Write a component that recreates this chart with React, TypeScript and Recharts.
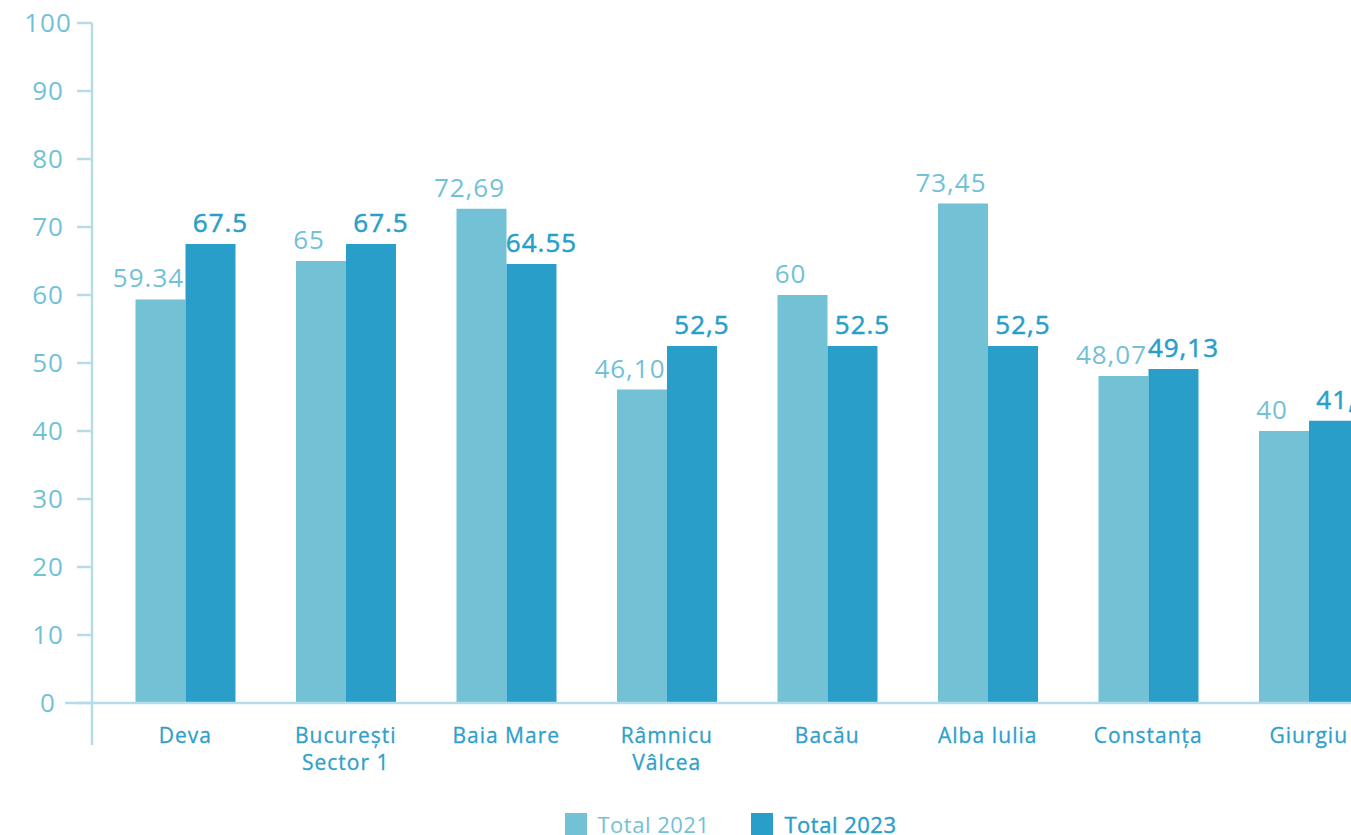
import React from 'react';
import { BarChart, Bar, XAxis, YAxis, Legend, LabelList } from 'recharts';

const cities = ['Deva', 'București\nSector 1', 'Baia Mare', 'Râmnicu\nVâlcea', 'Bacău', 'Alba Iulia', 'Constanța', 'Giurgiu'];
const total2021 = [59.34, 65, 72.69, 46.1, 60, 73.45, 48.07, 40];
const total2023 = [67.5, 67.5, 64.55, 52.5, 52.5, 52.5, 49.13, 41.5];
const labels2021 = ['59.34', '65', '72,69', '46,10', '60', '73,45', '48,07', '40'];
const labels2023 = ['67.5', '67.5', '64.55', '52,5', '52.5', '52,5', '49,13', '41,5'];
const yTicks = [0, 10, 20, 30, 40, 50, 60, 70, 80, 90, 100];

const data = cities.map((city, i) => ({
  city,
  t2021: total2021[i],
  t2023: total2023[i],
  l2021: labels2021[i],
  l2023: labels2023[i],
}));

const FONT = '"Open Sans", sans-serif';
const LIGHT = '#72c1d5';
const DARK = '#289ec9';
const AXIS = '#b6dcea';

const CityTick = (props: any) => {
  const { x, y, payload } = props;
  const lines = String(payload.value).split('\n');
  return (
    <text x={x} y={y} textAnchor="middle" fill="#2f9fcb" fontSize={21} fontFamily={FONT} letterSpacing={1}
      stroke="#2f9fcb" strokeWidth={0.3}>
      {lines.map((line, i) => (
        <tspan key={i} x={x} dy={i === 0 ? 40 : 27}>{line}</tspan>
      ))}
    </text>
  );
};

// tick labels are centred in the gutter left of the axis
const ValueTick = (props: any) => {
  const { x, y, payload } = props;
  return (
    <text x={x - 23} y={y} dy={9} textAnchor="middle" fill={LIGHT} fontSize={26} fontFamily={FONT} letterSpacing={1}>
      {payload.value}
    </text>
  );
};

const valueLabel = (color: string, bolder: boolean, shift: number) => (props: any) => {
  const { x, y, width, value } = props;
  return (
    <text x={x + width / 2 + shift} y={y - 12} textAnchor="middle" fill={color} fontSize={26}
      fontFamily={FONT} letterSpacing={1} stroke={bolder ? color : 'none'} strokeWidth={bolder ? 0.5 : 0}>
      {value}
    </text>
  );
};

const renderLegend = (props: any) => {
  const { payload } = props;
  return (
    <div style={{ display: 'flex', justifyContent: 'center', alignItems: 'center', height: 32, fontFamily: FONT }}>
      {payload.map((entry: any, i: number) => (
        <div key={i} style={{ display: 'flex', alignItems: 'center', marginLeft: i === 0 ? 0 : 41 }}>
          <span style={{ width: 22, height: 22, background: entry.color, display: 'inline-block' }} />
          <span style={{ marginLeft: i === 0 ? 10 : 12, fontSize: 22, color: entry.color, letterSpacing: 0.5,
            WebkitTextStroke: i === 0 ? undefined : `0.4px ${entry.color}` }}>
            {entry.value}
          </span>
        </div>
      ))}
    </div>
  );
};

export default function App() {
  return (
    <div style={{ position: 'fixed', left: 0, top: 0, width: 1351, height: 835, overflow: 'hidden', background: '#fff' }}>
      <BarChart width={1460} height={860} data={data} barCategoryGap="19%" barGap={0}
        margin={{ top: 23, right: 58, left: 20, bottom: 0 }}>
        <XAxis dataKey="city" tick={<CityTick />} tickLine={false} tickSize={0} tickMargin={0}
          axisLine={{ stroke: AXIS, strokeWidth: 2.5 }} height={125} padding={{ left: 13, right: 13 }} interval={0} />
        <YAxis domain={[0, 100]} ticks={yTicks} width={72} tickSize={15} tickMargin={6}
          tickLine={{ stroke: AXIS, strokeWidth: 2.5 }} axisLine={{ stroke: AXIS, strokeWidth: 2.5 }}
          tick={<ValueTick />} />
        <Legend content={renderLegend} verticalAlign="bottom" wrapperStyle={{ left: 0, width: 1462, top: 808, bottom: 'auto' }} />
        <Bar dataKey="t2021" name="Total 2021" fill={LIGHT} isAnimationActive={false}>
          <LabelList dataKey="l2021" content={valueLabel(LIGHT, false, -12)} />
        </Bar>
        <Bar dataKey="t2023" name="Total 2023" fill={DARK} isAnimationActive={false}>
          <LabelList dataKey="l2023" content={valueLabel(DARK, true, 10)} />
        </Bar>
      </BarChart>
      <svg width={1351} height={835} style={{ position: 'absolute', left: 0, top: 0, pointerEvents: 'none' }}>
        <line x1={65} y1={703} x2={92} y2={703} stroke={AXIS} strokeWidth={2.5} />
        <line x1={92} y1={703} x2={92} y2={745} stroke={AXIS} strokeWidth={2.5} />
      </svg>
    </div>
  );
}
